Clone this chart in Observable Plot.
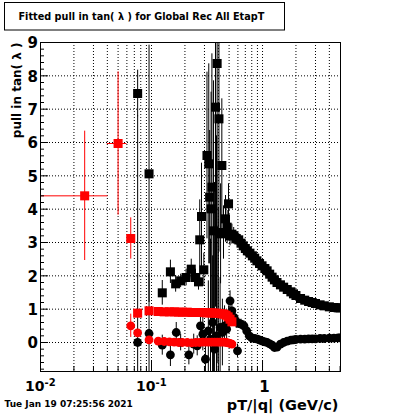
<!DOCTYPE html>
<html><head><meta charset="utf-8">
<script src="https://cdn.jsdelivr.net/npm/d3@7"></script>
<script src="https://cdn.jsdelivr.net/npm/@observablehq/plot@0.6"></script>
<style>body{margin:0;background:#fff} svg{display:block}</style>
</head><body><div id="chart"></div>
<script>
// ---- Black squares ----
const bsX = [0.075,0.095,0.125,0.148,0.165,0.183,0.205,0.228,0.249,0.265,0.272,0.282,0.296,0.316,0.328,0.334,0.344,0.350,0.362,0.377,0.390,0.405,0.419,0.430,0.445,0.464,0.480,0.494,0.51,0.53,0.55,0.58,0.61,0.64,0.67,0.70,0.73,0.77,0.81,0.85,0.89,0.94,0.99,1.05,1.10,1.16,1.22,1.28,1.35,1.45,1.55,1.67,1.80,1.90,2.0,2.2,2.4,2.6,2.8,3.0,3.3,3.6,4.0,4.4,4.8,5.0];
const bsY = [7.47,5.06,1.49,2.12,1.76,1.85,1.95,2.20,1.95,1.82,3.08,3.78,2.18,5.61,5.36,4.36,4.01,4.66,3.35,7.06,8.37,6.71,3.26,5.31,3.30,3.71,3.46,4.16,3.20,3.25,3.20,3.12,3.08,2.98,2.90,2.82,2.75,2.68,2.60,2.53,2.45,2.37,2.30,2.22,2.15,2.05,1.96,1.88,1.80,1.73,1.66,1.59,1.52,1.46,1.41,1.32,1.27,1.23,1.20,1.17,1.13,1.10,1.07,1.05,1.04,1.04];
const bsE = [0.70,3.86,0.37,0.35,0.25,0.20,0.25,0.30,0.25,0.25,1.2,1.6,0.5,2.5,3.0,2.0,3.5,4.0,4.5,6.0,9.0,4.0,1.5,2.0,0.8,0.7,0.5,0.6,0.3,0.3,0.25,0.2,0.2,0.15,0.15,0.1,0.1,0.1,0.08,0.08,0.08,0.07,0.07,0.07,0.06,0.06,0.06,0.06,0.05,0.05,0.05,0.05,0.05,0.05,0.05,0.04,0.04,0.04,0.04,0.04,0.04,0.04,0.04,0.04,0.04,0.04];
// ---- Black circles ----
const bcX = [0.075,0.095,0.125,0.148,0.167,0.183,0.217,0.240,0.258,0.276,0.290,0.306,0.325,0.340,0.355,0.370,0.385,0.400,0.415,0.435,0.455,0.475,0.495,0.510,0.530,0.555,0.580,0.595,0.61,0.64,0.68,0.72,0.76,0.80,0.85,0.90,0.95,1.00,1.05,1.10,1.16,1.22,1.28,1.35,1.45,1.55,1.67,1.80,1.90,2.0,2.2,2.4,2.6,2.8,3.0,3.3,3.6,4.0,4.4,4.8,5.0];
const bcY = [0.00,0.27,-0.08,-0.37,0.30,0.00,-0.37,-0.05,-0.10,0.50,0.25,-0.50,0.35,0.10,0.60,-0.20,0.20,0.05,0.45,0.30,0.50,0.40,0.70,1.25,0.95,0.75,0.62,-0.25,0.58,0.55,0.50,0.35,0.20,0.14,0.12,0.10,0.07,0.04,0.02,0.00,-0.04,-0.08,-0.15,-0.14,-0.05,0.00,0.04,0.07,0.08,0.09,0.10,0.10,0.11,0.11,0.11,0.12,0.12,0.13,0.13,0.14,0.14];
const bcE = [6.8,1.8,0.3,0.35,0.3,0.25,0.3,0.3,0.3,0.4,0.5,0.6,1.5,3.0,2.0,5.0,6.0,4.0,1.5,1.0,0.6,0.5,0.4,0.3,0.3,0.2,0.2,0.2,0.15,0.15,0.15,0.1,0.1,0.08,0.08,0.07,0.07,0.06,0.06,0.06,0.06,0.06,0.05,0.05,0.05,0.05,0.05,0.05,0.05,0.04,0.04,0.04,0.04,0.04,0.04,0.04,0.04,0.04,0.04,0.04,0.04];
// ---- Red squares ----
const rsX = [0.025,0.050,0.065,0.075,0.095,0.115,0.130,0.145,0.160,0.175,0.190,0.210,0.230,0.250,0.270,0.290,0.310,0.330,0.350,0.370,0.390,0.410,0.430,0.450,0.470,0.490,0.510,0.530];
const rsY = [4.40,5.97,3.12,0.88,0.95,0.93,0.92,0.92,0.92,0.91,0.91,0.91,0.90,0.90,0.90,0.90,0.89,0.89,0.89,0.88,0.88,0.87,0.86,0.85,0.82,0.77,0.70,0.62];
const rsE = [1.94,2.15,0.62,0.05,0.04,0.04,0.04,0.04,0.04,0.04,0.04,0.04,0.04,0.04,0.04,0.04,0.04,0.04,0.04,0.04,0.04,0.04,0.04,0.04,0.04,0.04,0.04,0.04];
const rsXE = [0.0155,0.010,0,0,0,0,0,0,0,0,0,0,0,0,0,0,0,0,0,0,0,0,0,0,0,0,0,0];
// ---- Red circles ----
const rcX = [0.065,0.075,0.095,0.115,0.130,0.145,0.160,0.175,0.190,0.210,0.230,0.250,0.270,0.290,0.310,0.330,0.350,0.370,0.390,0.410,0.430,0.450,0.470,0.490,0.510,0.530];
const rcY = [0.50,0.29,0.08,0.04,0.03,0.02,0.01,0.00,0.00,0.00,-0.01,0.00,0.00,0.01,0.01,0.01,0.01,0.01,0.01,0.01,0.01,0.01,0.00,-0.01,-0.03,-0.05];
const rcE = [0.35,0.10,0.05,0.04,0.04,0.04,0.04,0.04,0.04,0.04,0.04,0.04,0.04,0.04,0.04,0.04,0.04,0.04,0.04,0.04,0.04,0.04,0.04,0.04,0.04,0.04];

// ---- Axis ticks / labels ----
const xMajorTicks = [0.01, 0.1, 1];
const xMinorTicks = [0.02,0.03,0.04,0.05,0.06,0.07,0.08,0.09,0.2,0.3,0.4,0.5,0.6,0.7,0.8,0.9,2,3,4,5];
const xGridLines = [0.02,0.03,0.04,0.05,0.06,0.07,0.08,0.09,0.1,0.2,0.3,0.4,0.5,0.6,0.7,0.8,0.9,1,2,3,4];
const xDecadeBase = ["10","10"];
const xDecadeExp = ["-2","-1"];
const yMajorTicks = [0,1,2,3,4,5,6,7,8,9];
const yGridLines = [0,1,2,3,4,5,6,7,8];
const yMinorTicks = d3.range(-0.8, 9.0001, 0.2).map(v => Math.round(v*10)/10).filter(v => Math.abs(v - Math.round(v)) > 1e-6);

const titleText = "Fitted pull in tan( λ ) for Global Rec All EtapT";
const yTitle = "pull in tan( λ )";
const xTitle = "pT/|q| (GeV/c)";
const dateText = "Tue Jan 19 07:25:56 2021";

const rows = (xs, ys, es, xes) => xs.map((x, i) => ({x, y: ys[i], e: es[i], xe: xes ? xes[i] : 0}));
const bs = rows(bsX, bsY, bsE), bc = rows(bcX, bcY, bcE), rs = rows(rsX, rsY, rsE, rsXE), rc = rows(rcX, rcY, rcE);

const W = 400, H = 414, mL = 40, mR = 60, mT = 42, mB = 43;
const fW = W - mL - mR, fH = H - mT - mB;
const bold = {fontWeight: "bold", fill: "black"};

const chart = Plot.plot({
  width: W, height: H,
  marginLeft: mL, marginRight: mR, marginTop: mT, marginBottom: mB,
  style: {fontFamily: "'DejaVu Sans', Verdana, sans-serif", background: "white", overflow: "visible"},
  x: {type: "log", domain: [0.01, 5.04], axis: null},
  y: {domain: [-0.87, 9], axis: null},
  marks: [
    Plot.ruleX(xGridLines, {x: d => d, stroke: "black", strokeDasharray: "1,2", strokeWidth: 1}),
    Plot.ruleY(yGridLines, {y: d => d, stroke: "black", strokeDasharray: "1,2", strokeWidth: 1}),
    // black squares
    Plot.ruleX(bs, {x: "x", y1: d => d.y - d.e, y2: d => d.y + d.e, stroke: "black", strokeWidth: 1, clip: true}),
    Plot.dot(bs, {x: "x", y: "y", symbol: "square", r: 5.1, fill: "black", stroke: "none", clip: true}),
    // black circles
    Plot.ruleX(bc, {x: "x", y1: d => d.y - d.e, y2: d => d.y + d.e, stroke: "black", strokeWidth: 1, clip: true}),
    Plot.dot(bc, {x: "x", y: "y", symbol: "circle", r: 4.4, fill: "black", stroke: "none", clip: true}),
    // red squares
    Plot.ruleX(rs, {x: "x", y1: d => d.y - d.e, y2: d => d.y + d.e, stroke: "#ff0000", strokeWidth: 1, clip: true}),
    Plot.ruleY(rs.filter(d => d.xe > 0), {y: "y", x1: d => d.x - d.xe, x2: d => d.x + d.xe, stroke: "#ff0000", strokeWidth: 1, clip: true}),
    Plot.dot(rs, {x: "x", y: "y", symbol: "square", r: 5.1, fill: "#ff0000", stroke: "none", clip: true}),
    // red circles
    Plot.ruleX(rc, {x: "x", y1: d => d.y - d.e, y2: d => d.y + d.e, stroke: "#ff0000", strokeWidth: 1, clip: true}),
    Plot.dot(rc, {x: "x", y: "y", symbol: "circle", r: 4.4, fill: "#ff0000", stroke: "none", clip: true}),
    // frame
    Plot.frame({stroke: "black", strokeWidth: 1}),
    // ticks (inward)
    Plot.tickX(xMajorTicks, {x: d => d, insetTop: fH - 10, stroke: "black"}),
    Plot.tickX(xMinorTicks, {x: d => d, insetTop: fH - 5, stroke: "black"}),
    Plot.tickY(yMajorTicks, {y: d => d, insetRight: fW - 8, stroke: "black"}),
    Plot.tickY(yMinorTicks, {y: d => d, insetRight: fW - 4, stroke: "black"}),
    // y tick labels
    Plot.text(yMajorTicks, {y: d => d, text: d => String(d), frameAnchor: "left", textAnchor: "end", dx: -2.5, dy: 1, fontSize: 15, ...bold}),
    // x tick labels (10 with superscript exponent)
    Plot.text(xMajorTicks.slice(0, 2), {x: d => d, text: (d, i) => xDecadeBase[i], frameAnchor: "bottom", lineAnchor: "top", textAnchor: "end", dx: 4, dy: 10, fontSize: 14, ...bold}),
    Plot.text(xMajorTicks.slice(0, 2), {x: d => d, text: (d, i) => xDecadeExp[i], frameAnchor: "bottom", lineAnchor: "top", textAnchor: "start", dx: 4, dy: 7, fontSize: 10, ...bold}),
    Plot.text(xMajorTicks.slice(2), {x: d => d, text: () => "1", frameAnchor: "bottom", lineAnchor: "top", textAnchor: "middle", dx: 2, dy: 10, fontSize: 15, ...bold}),
    // axis titles
    Plot.text([yTitle], {text: d => d, frameAnchor: "top-left", rotate: -90, textAnchor: "end", lineAnchor: "middle", dx: -23, dy: 0, fontSize: 12, ...bold}),
    Plot.text([xTitle], {text: d => d, frameAnchor: "bottom-right", textAnchor: "end", lineAnchor: "top", dx: -2, dy: 28, fontSize: 14.5, ...bold}),
    Plot.text([dateText], {text: d => d, frameAnchor: "bottom-left", textAnchor: "start", lineAnchor: "top", dx: -36, dy: 29, fontSize: 9, ...bold}),
    Plot.text([titleText], {text: d => d, frameAnchor: "top-left", textAnchor: "start", lineAnchor: "top", dx: -22, dy: -29, fontSize: 9.7, ...bold})
  ]
});

// title box behind the title text
d3.select(chart).insert("rect", ":first-child")
  .attr("x", 4.5).attr("y", 2.5).attr("width", 280).attr("height", 27.5)
  .attr("fill", "white").attr("stroke", "black").attr("stroke-width", 1);

document.getElementById("chart").appendChild(chart);
</script>
</body></html>
